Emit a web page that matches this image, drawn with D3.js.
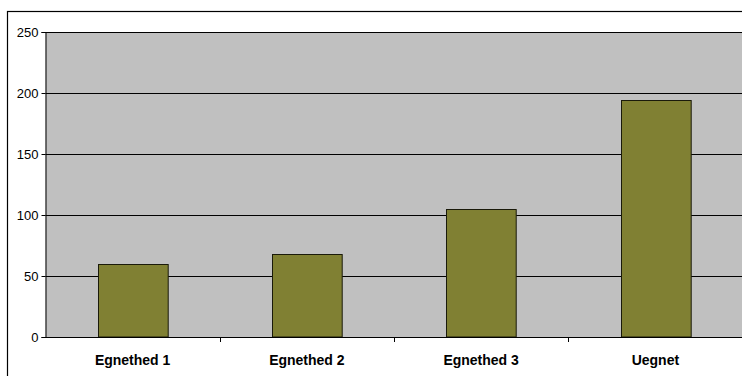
<!DOCTYPE html>
<html>
<head>
<meta charset="utf-8">
<script src="https://cdn.jsdelivr.net/npm/d3@7/dist/d3.min.js"></script>
<style>
  html, body { margin: 0; padding: 0; background: #fff; }
  svg { display: block; }
</style>
</head>
<body>
<svg id="chart" width="742" height="376"></svg>
<script>
// Bar chart data
const categories = ["Egnethed 1", "Egnethed 2", "Egnethed 3", "Uegnet"];
const values = [60, 68, 105, 194];
const yTicks = [0, 50, 100, 150, 200, 250];

const svg = d3.select("#chart");
const W = 742, H = 376;

// outer chart frame
svg.append("rect")
  .attr("x", 7.5).attr("y", 11.5)
  .attr("width", W).attr("height", H)
  .attr("fill", "#fff").attr("stroke", "#000").attr("stroke-width", 1.2);

const plot = { left: 45.5, right: 745, top: 32, bottom: 337 };

const x = d3.scaleBand()
  .domain(categories)
  .range([plot.left, plot.left + 4 * 174.25])
  .paddingInner(0.6)
  .paddingOuter(0.3);

const y = d3.scaleLinear()
  .domain([0, 250])
  .range([plot.bottom, plot.top]);

// plot background
svg.append("rect")
  .attr("x", plot.left).attr("y", plot.top)
  .attr("width", plot.right - plot.left).attr("height", plot.bottom - plot.top)
  .attr("fill", "#c0c0c0");

// gridlines
svg.append("g")
  .selectAll("line")
  .data(yTicks.filter(d => d > 0))
  .join("line")
  .attr("x1", plot.left).attr("x2", plot.right)
  .attr("y1", d => Math.round(y(d)) + 0.5).attr("y2", d => Math.round(y(d)) + 0.5)
  .attr("stroke", "#000").attr("stroke-width", 1);

// bars
svg.append("g")
  .selectAll("rect")
  .data(values)
  .join("rect")
  .attr("x", (d, i) => Math.round(x(categories[i])) + 0.5)
  .attr("y", d => Math.round(y(d)) + 0.5)
  .attr("width", x.bandwidth())
  .attr("height", d => y(0) - Math.round(y(d)) - 0.5)
  .attr("fill", "#808033")
  .attr("stroke", "#1a1a0a").attr("stroke-width", 1);

// y axis
const yAxis = d3.axisLeft(y)
  .tickValues(yTicks)
  .tickSize(4)
  .tickPadding(3);
const gy = svg.append("g")
  .attr("transform", `translate(${plot.left},0)`)
  .call(yAxis);
gy.select(".domain").attr("stroke", "#000");
gy.selectAll(".tick line").attr("stroke", "#000");
gy.selectAll(".tick text")
  .attr("font-family", "Liberation Sans, Arial, sans-serif")
  .attr("font-size", 13)
  .attr("fill", "#000");

// x axis with ticks between categories
const gx = svg.append("g")
  .attr("transform", `translate(0,${plot.bottom})`);
gx.append("line")
  .attr("x1", plot.left).attr("x2", plot.right)
  .attr("y1", 0.5).attr("y2", 0.5)
  .attr("stroke", "#000").attr("stroke-width", 1.2);
const step = x.step();
const bounds = d3.range(1, categories.length + 1).map(i => plot.left + i * step);
gx.selectAll("line.sep")
  .data(bounds)
  .join("line")
  .attr("class", "sep")
  .attr("x1", d => Math.round(d) + 0.5).attr("x2", d => Math.round(d) + 0.5)
  .attr("y1", 0).attr("y2", 5)
  .attr("stroke", "#000");
gx.selectAll("text")
  .data(categories)
  .join("text")
  .attr("x", d => x(d) + x.bandwidth() / 2)
  .attr("y", 28)
  .attr("text-anchor", "middle")
  .attr("font-family", "Liberation Sans, Arial, sans-serif")
  .attr("font-size", 14)
  .attr("font-weight", "bold")
  .attr("fill", "#000")
  .text(d => d);
</script>
</body>
</html>
